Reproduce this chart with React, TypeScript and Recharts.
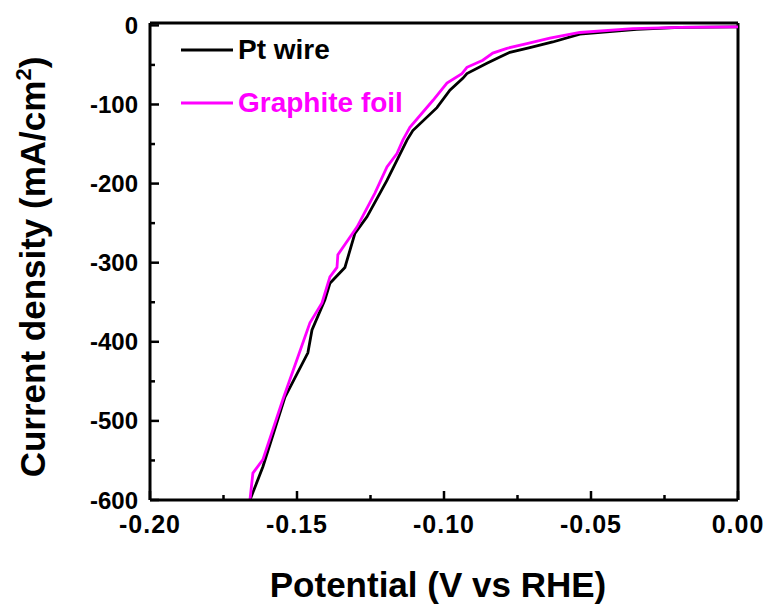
import React from "react";
import {
  LineChart,
  Line,
  XAxis,
  YAxis,
  Legend,
  ReferenceLine,
} from "recharts";

const FONT = "'Liberation Sans', Arial, sans-serif";

// Pt wire curve
const ptPotential = [
  -0.166, -0.1616, -0.1541, -0.1463, -0.1449, -0.1405, -0.1388, -0.1337,
  -0.1303, -0.1262, -0.1194, -0.1126, -0.1106, -0.1024, -0.098, -0.0936,
  -0.0922, -0.0854, -0.081, -0.0776, -0.0708, -0.063, -0.0538, -0.0344,
  -0.0197, 0,
];
const ptCurrent = [
  -600, -558, -470, -414, -385, -347, -326, -306, -263, -242, -196, -145,
  -133, -104, -82, -67, -61, -48, -40, -34, -28, -21, -11, -5, -2.5, -2,
];

// Graphite foil curve
const gfPotential = [
  -0.166, -0.165, -0.1616, -0.1548, -0.1456, -0.1415, -0.1388, -0.1364,
  -0.1361, -0.1296, -0.1235, -0.1194, -0.116, -0.114, -0.1116, -0.1038,
  -0.099, -0.0939, -0.0922, -0.0868, -0.0834, -0.0786, -0.0718, -0.064,
  -0.0538, -0.0358, -0.0197, 0,
];
const gfCurrent = [
  -600, -566, -549, -473, -376, -351, -318, -306, -290, -255, -212, -179,
  -162, -145, -129, -95, -73, -61, -53, -44, -35, -29, -23, -16, -9, -4,
  -2.5, -2,
];

const xTicks = [-0.2, -0.175, -0.15, -0.125, -0.1, -0.075, -0.05, -0.025, 0];
const xMajor = [-0.2, -0.15, -0.1, -0.05, 0];
const yTicks = [-600, -550, -500, -450, -400, -350, -300, -250, -200, -150, -100, -50, 0];
const yMajor = [-600, -500, -400, -300, -200, -100, 0];

const seriesNames = ["Pt wire", "Graphite foil"];
const seriesColors = ["#000000", "#ff00ff"];

const ptData = ptPotential.map((p, i) => ({ potential: p, current: ptCurrent[i] }));
const gfData = gfPotential.map((p, i) => ({ potential: p, current: gfCurrent[i] }));

const XTick = (props: any) => {
  const { x, y, payload } = props;
  const major = xMajor.includes(payload.value);
  return (
    <g>
      <line x1={x} x2={x} y1={y} y2={y - (major ? 9 : 5)} stroke="#000" strokeWidth={2.5} />
      {major && (
        <text
          x={x}
          y={y + 24}
          textAnchor="middle"
          dominantBaseline="central"
          fontFamily={FONT}
          fontWeight="bold"
          fontSize={25}
          letterSpacing={1}
          fill="#000"
        >
          {payload.value.toFixed(2)}
        </text>
      )}
    </g>
  );
};

const YTick = (props: any) => {
  const { x, y, payload } = props;
  const major = yMajor.includes(payload.value);
  return (
    <g>
      <line x1={x} x2={x + (major ? 9 : 5)} y1={y} y2={y} stroke="#000" strokeWidth={2.5} />
      {major && (
        <text
          x={x - 12}
          y={y}
          textAnchor="end"
          dominantBaseline="central"
          fontFamily={FONT}
          fontWeight="bold"
          fontSize={24}
          fill="#000"
        >
          {payload.value}
        </text>
      )}
    </g>
  );
};

const XTitle = (props: any) => {
  const { viewBox } = props;
  return (
    <text
      x={viewBox.x + viewBox.width / 2 - 6}
      y={viewBox.y + 97}
      textAnchor="middle"
      fontFamily={FONT}
      fontWeight="bold"
      fontSize={35}
      fill="#000"
    >
      Potential (V vs RHE)
    </text>
  );
};

const YTitle = () => (
  <text
    x={45}
    y={267}
    transform="rotate(-90, 45, 267)"
    textAnchor="middle"
    fontFamily={FONT}
    fontWeight="bold"
    fontSize={35}
    fill="#000"
  >
    Current density (mA/cm
    <tspan dy={-14} fontSize={22}>2</tspan>
    <tspan dy={14}>)</tspan>
  </text>
);

const LegendBox = () => (
  <div style={{ fontFamily: FONT, fontWeight: "bold", fontSize: 28 }}>
    {seriesNames.map((name, i) => (
      <div key={name} style={{ display: "flex", alignItems: "center", height: 53 }}>
        <svg width={52} height={4}>
          <line x1={0} x2={52} y1={2} y2={2} stroke={seriesColors[i]} strokeWidth={3} />
        </svg>
        <span style={{ marginLeft: 5, color: seriesColors[i] }}>{name}</span>
      </div>
    ))}
  </div>
);

const App = () => {
  return (
    <div style={{ position: "absolute", left: 0, top: 0 }}>
      <LineChart
        width={771}
        height={608}
        margin={{ top: 23, right: 33, bottom: 0, left: 0 }}
      >
        <XAxis
          dataKey="potential"
          type="number"
          domain={[-0.2, 0]}
          ticks={xTicks}
          interval={0}
          tickSize={0}
          tickMargin={0}
          tick={<XTick />}
          height={108}
          axisLine={{ stroke: "#000", strokeWidth: 3 }}
          label={<XTitle />}
          allowDataOverflow
        />
        <YAxis
          dataKey="current"
          type="number"
          domain={[-600, 3]}
          ticks={yTicks}
          interval={0}
          tickSize={0}
          tickMargin={0}
          tick={<YTick />}
          width={150}
          axisLine={{ stroke: "#000", strokeWidth: 3 }}
          label={<YTitle />}
          allowDataOverflow
        />
        <ReferenceLine y={3} stroke="#000" strokeWidth={3} />
        <ReferenceLine x={0} stroke="#000" strokeWidth={3} />
        <Legend
          layout="vertical"
          align="center"
          verticalAlign="middle"
          content={<LegendBox />}
          wrapperStyle={{ left: 181, top: 23, width: "auto" }}
        />
        <Line
          data={ptData}
          dataKey="current"
          type="linear"
          stroke={seriesColors[0]}
          strokeWidth={2.8}
          dot={false}
          isAnimationActive={false}
        />
        <Line
          data={gfData}
          dataKey="current"
          type="linear"
          stroke={seriesColors[1]}
          strokeWidth={2.8}
          dot={false}
          isAnimationActive={false}
        />
      </LineChart>
    </div>
  );
};

export default App;
